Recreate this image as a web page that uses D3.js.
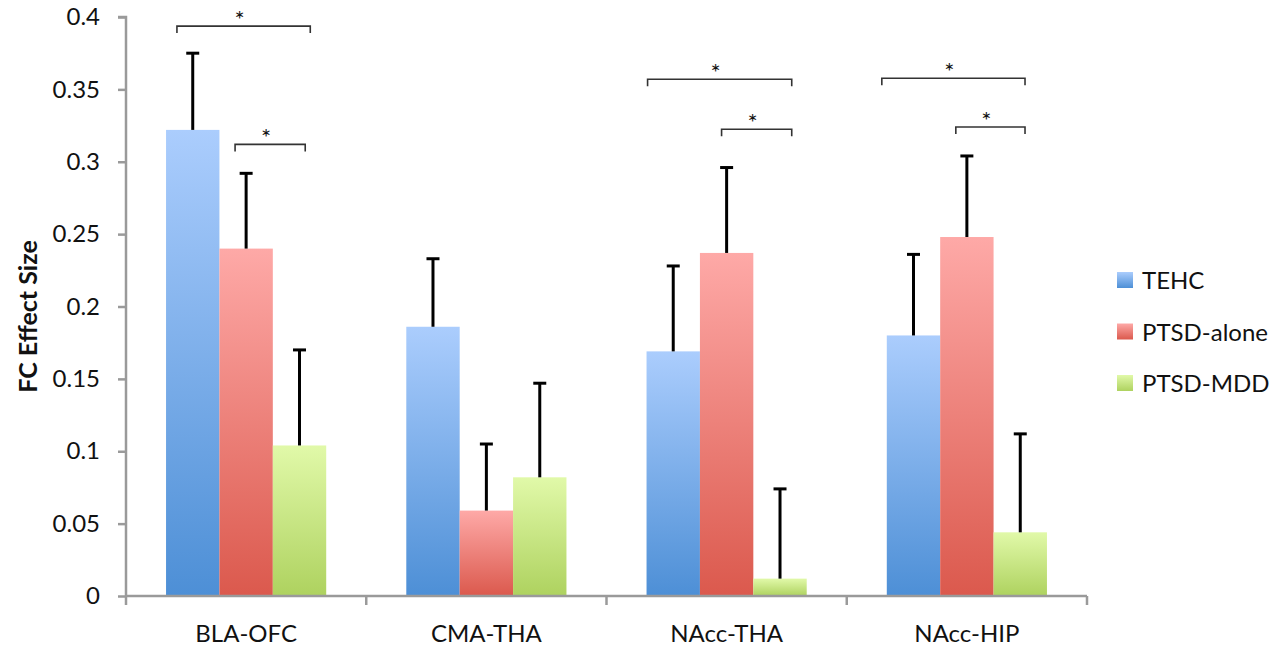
<!DOCTYPE html>
<html>
<head>
<meta charset="utf-8">
<script src="https://cdn.jsdelivr.net/npm/d3@7"></script>
<style>
  html, body { margin: 0; padding: 0; background: #fff; }
  svg { display: block; }
  text { font-family: Lato, "Open Sans", "Liberation Sans", sans-serif; fill: #111; }
</style>
</head>
<body>
<svg id="chart" width="1275" height="646"></svg>
<script>
// ---- data ----
const categories = ["BLA-OFC", "CMA-THA", "NAcc-THA", "NAcc-HIP"];
const seriesNames = ["TEHC", "PTSD-alone", "PTSD-MDD"];
const tehc      = [0.322, 0.186, 0.169, 0.180];
const ptsdAlone = [0.240, 0.059, 0.237, 0.248];
const ptsdMdd   = [0.104, 0.082, 0.012, 0.044];
const tehcErr      = [0.053, 0.047, 0.059, 0.056];
const ptsdAloneErr = [0.052, 0.046, 0.059, 0.056];
const ptsdMddErr   = [0.066, 0.065, 0.062, 0.068];
const yTicks = [0, 0.05, 0.1, 0.15, 0.2, 0.25, 0.3, 0.35, 0.4];
const yLabel = "FC Effect Size";
// significance brackets: category, from/to as fraction of category band, level (data units)
const bracketCats  = ["BLA-OFC", "BLA-OFC", "NAcc-THA", "NAcc-THA", "NAcc-HIP", "NAcc-HIP"];
const bracketFrom  = [0.212, 0.454, 0.171, 0.479, 0.146, 0.454];
const bracketTo    = [0.767, 0.746, 0.771, 0.771, 0.742, 0.742];
const bracketLevel = [0.3937, 0.312, 0.357, 0.3225, 0.3577, 0.324];
const bracketLabel = ["*", "*", "*", "*", "*", "*"];

const values = [tehc, ptsdAlone, ptsdMdd];
const errors = [tehcErr, ptsdAloneErr, ptsdMddErr];
const gradStops = [["#abcdfd", "#4d8fd6"], ["#fea9a7", "#db594d"], ["#e1f9a9", "#aed25f"]];

// ---- layout ----
const svg = d3.select("#chart");
const plotLeft = 126, plotRight = 1087, plotTop = 17, plotBottom = 596;

const x0 = d3.scaleBand().domain(categories).range([plotLeft, plotRight]).padding(0);
const bw = x0.bandwidth();
const x1 = d3.scaleBand().domain(seriesNames).range([bw / 6, bw * 5 / 6]).padding(0);
const y = d3.scaleLinear().domain([0, 0.4]).range([plotBottom, plotTop]);

// gradients
const defs = svg.append("defs");
seriesNames.forEach((s, i) => {
  const g = defs.append("linearGradient").attr("id", "grad" + i)
    .attr("x1", 0).attr("y1", 0).attr("x2", 0).attr("y2", 1);
  g.append("stop").attr("offset", "0%").attr("stop-color", gradStops[i][0]);
  g.append("stop").attr("offset", "100%").attr("stop-color", gradStops[i][1]);
});

// bars
const barData = [];
seriesNames.forEach((s, si) => {
  categories.forEach((c, ci) => {
    barData.push({ s, si, c, v: values[si][ci], e: errors[si][ci] });
  });
});

svg.append("g").selectAll("rect").data(barData).join("rect")
  .attr("x", d => x0(d.c) + x1(d.s))
  .attr("y", d => y(d.v))
  .attr("width", x1.bandwidth())
  .attr("height", d => y(0) - y(d.v))
  .attr("fill", d => `url(#grad${d.si})`);

// error bars
const eg = svg.append("g").attr("stroke", "#000").attr("stroke-width", 3);
barData.forEach(d => {
  const cx = x0(d.c) + x1(d.s) + x1.bandwidth() / 2;
  eg.append("line").attr("x1", cx).attr("x2", cx).attr("y1", y(d.v)).attr("y2", y(d.v + d.e));
  eg.append("line").attr("x1", cx - 6.5).attr("x2", cx + 6.5).attr("y1", y(d.v + d.e)).attr("y2", y(d.v + d.e));
});

const tickFont = "24px";

// y axis
const yAxis = d3.axisLeft(y).tickValues(yTicks).tickSize(8).tickPadding(18)
  .tickFormat(d => d === 0 ? "0" : String(+d.toFixed(2)));
const yg = svg.append("g").attr("transform", `translate(${plotLeft},0)`).call(yAxis);
yg.select(".domain").attr("stroke", "#9a9a9a").attr("stroke-width", 2.5)
  .attr("d", `M-8,${plotTop}H0V${plotBottom}`);
yg.selectAll(".tick line").attr("stroke", "#9a9a9a").attr("stroke-width", 2.5);
yg.selectAll(".tick text").style("font-size", tickFont).attr("fill", "#111")
  .style("font-family", "Lato, 'Open Sans', sans-serif");

// x axis
const xAxis = d3.axisBottom(x0).tickSize(0).tickPadding(29);
const xg = svg.append("g").attr("transform", `translate(0,${plotBottom})`).call(xAxis);
xg.select(".domain").attr("stroke", "#9a9a9a").attr("stroke-width", 2.5)
  .attr("d", `M${plotLeft},0H${plotRight}`);
xg.selectAll(".tick text").style("font-size", tickFont).attr("fill", "#111")
  .style("font-family", "Lato, 'Open Sans', sans-serif");
// boundary ticks
const boundaries = categories.map(c => x0(c)).concat([plotRight]);
xg.selectAll(".bnd").data(boundaries).join("line").attr("class", "bnd")
  .attr("x1", d => d).attr("x2", d => d).attr("y1", 0).attr("y2", 9)
  .attr("stroke", "#9a9a9a").attr("stroke-width", 2.5);

// y label
svg.append("text")
  .attr("transform", `translate(37,${(plotTop + plotBottom) / 2 + 10}) rotate(-90)`)
  .attr("text-anchor", "middle")
  .style("font-size", "25px").style("font-weight", "bold")
  .text(yLabel);

// significance brackets
const bg = svg.append("g");
bracketCats.forEach((c, i) => {
  const xa = x0(c) + bw * bracketFrom[i];
  const xb = x0(c) + bw * bracketTo[i];
  const yy = y(bracketLevel[i]);
  bg.append("path")
    .attr("d", `M${xa},${yy + 7}V${yy}H${xb}V${yy + 7}`)
    .attr("fill", "none").attr("stroke", "#333").attr("stroke-width", 1.6);
  bg.append("text")
    .attr("x", (xa + xb) / 2 - 4).attr("y", yy + 2)
    .attr("text-anchor", "middle")
    .style("font-size", "24px")
    .text(bracketLabel[i]);
});

// legend
const lg = svg.append("g").attr("transform", "translate(1117,280)");
seriesNames.forEach((s, i) => {
  const row = lg.append("g").attr("transform", `translate(0,${i * 51.5})`);
  row.append("rect").attr("x", 0).attr("y", -8).attr("width", 16).attr("height", 16)
    .attr("fill", `url(#grad${i})`);
  row.append("text").attr("x", 25).attr("y", 9)
    .style("font-size", tickFont).text(s);
});
</script>
</body>
</html>
